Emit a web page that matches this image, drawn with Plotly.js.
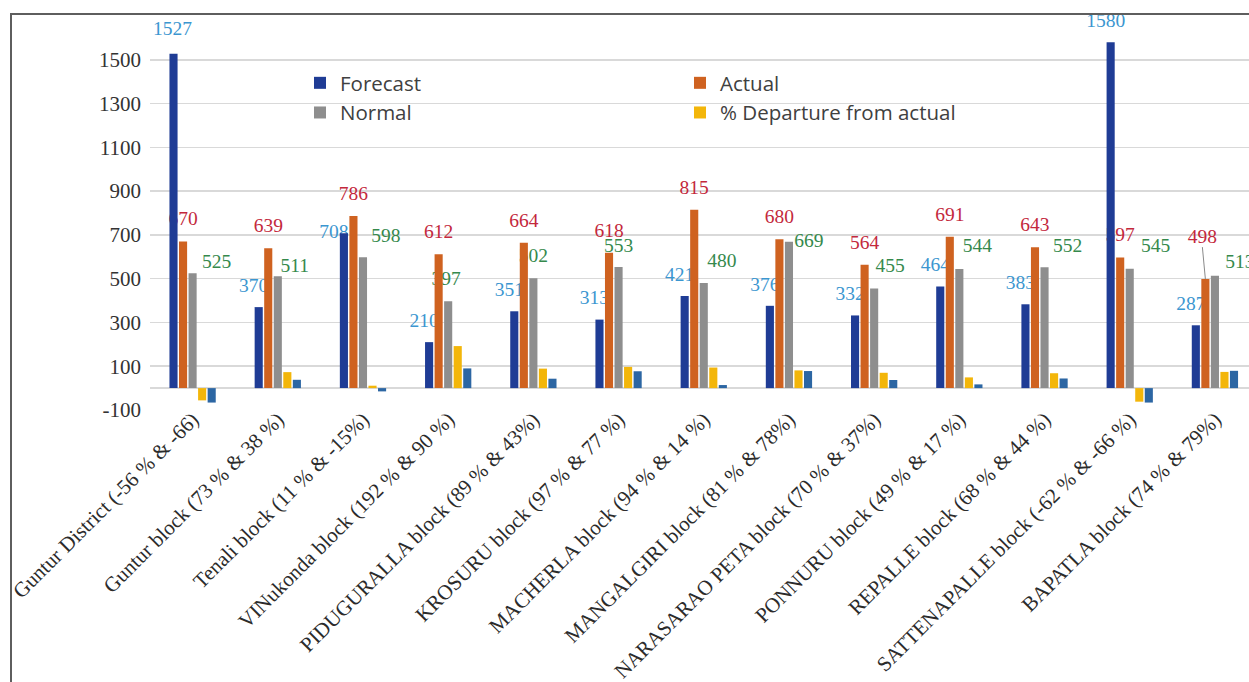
<!DOCTYPE html>
<html>
<head>
<meta charset="utf-8">
<script src="https://cdn.plot.ly/plotly-3.0.1.min.js"></script>
<style>
  html, body { margin: 0; padding: 0; background: #fff; overflow: hidden; }
  #wrap { position: relative; width: 1249px; height: 682px; }
  #chart { position: absolute; left: 0; top: 0; width: 1249px; height: 682px; }
  #frame { position: absolute; left: 10px; top: 13px; width: 1300px; height: 720px;
           border-top: 2px solid #5e5e5e; border-left: 2px solid #5e5e5e; pointer-events: none; }
</style>
</head>
<body>
<div id="wrap"><div id="chart"></div><div id="frame"></div></div>
<script>
// ---- data ----
const categories = [
  "Guntur District (-56 % & -66)",
  "Guntur block (73 % & 38 %)",
  "Tenali block (11 % & -15%)",
  "VINukonda block (192 % & 90 %)",
  "PIDUGURALLA block (89 % & 43%)",
  "KROSURU block (97 % & 77 %)",
  "MACHERLA block (94 % & 14 %)",
  "MANGALGIRI block (81 % & 78%)",
  "NARASARAO PETA block (70 % & 37%)",
  "PONNURU block (49 % & 17 %)",
  "REPALLE block (68 % & 44 %)",
  "SATTENAPALLE block (-62 % & -66 %)",
  "BAPATLA block (74 % & 79%)"
];
const forecast  = [1527, 370, 708, 210, 351, 313, 421, 376, 332, 464, 383, 1580, 287];
const actual    = [670, 639, 786, 612, 664, 618, 815, 680, 564, 691, 643, 597, 498];
const normal    = [525, 511, 598, 397, 502, 553, 480, 669, 455, 544, 552, 545, 513];
const departureActual = [-56, 73, 11, 192, 89, 97, 94, 81, 70, 49, 68, -62, 74];
const departureNormal = [-66, 38, -15, 90, 43, 77, 14, 78, 37, 17, 44, -66, 79];
const yTickValues = [-100, 100, 300, 500, 700, 900, 1100, 1300, 1500];

// ---- geometry ----
const W = 1249, H = 682;
const M = { l: 150, r: 0, t: 16, b: 272 };
const plotW = W - M.l - M.r, plotH = H - M.t - M.b;
const xRange = [-0.5, 12.4];
const yRange = [-100, 1700];
const bargap = 0.44, bargroupgap = 0.15, nSeries = 5;
const pxPerX = plotW / (xRange[1] - xRange[0]);
const pxPerY = plotH / (yRange[1] - yRange[0]);
const idx = categories.map((_, i) => i);

// centre of bar k inside category i (grouped bars)
function barCenter(i, k) {
  const slot = (1 - bargap) / nSeries;
  return i - (1 - bargap) / 2 + (k + 0.5) * slot;
}

// label placement in pixels [right, up] relative to the bar top
const forecastShift = idx.map(i => i === 2 ? [-10, 0] : (i === 0 ? [-1, 24] : [-5, 20]));
const actualShift   = idx.map(i => i === 12 ? [-3, 41] : [0, 21]);
const normalShift   = [[24, 10], [17, 9], [23, 20], [-2, 21], [0, 21], [0, 20], [18, 21],
                       [20, 0], [16, 21], [18, 22], [23, 20], [26, 22], [25, 13]];

const serif = "Liberation Serif, Times New Roman, serif";
const sans = "Open Sans, Noto Sans, sans-serif";

function labelTrace(values, k, shift, color) {
  return {
    type: "scatter", mode: "text", xaxis: "x", yaxis: "y",
    x: values.map((v, i) => barCenter(i, k) + shift[i][0] / pxPerX),
    y: values.map((v, i) => v + shift[i][1] / pxPerY),
    text: values.map(v => String(v)),
    textposition: "middle center",
    textfont: { family: serif, size: 19.5, color: color },
    cliponaxis: false, hoverinfo: "skip", showlegend: false
  };
}

function barTrace(name, values, color, legend, show) {
  return {
    type: "bar", name: name, x: idx, y: values, xaxis: "x", yaxis: "y2",
    marker: { color: color, line: { width: 0 } },
    legend: legend, legendgroup: name, showlegend: show,
    hovertemplate: name + ": %{y}<extra></extra>"
  };
}

// leader line from the BAPATLA "Actual" label down to its bar
const leadX = barCenter(12, 1);
const leader = {
  type: "scatter", mode: "lines", xaxis: "x", yaxis: "y",
  x: [leadX - 3 / pxPerX, leadX],
  y: [actual[12] + 32 / pxPerY, actual[12]],
  line: { color: "#8a8a8a", width: 1 },
  hoverinfo: "skip", showlegend: false, cliponaxis: false
};

const traces = [
  labelTrace(forecast, 0, forecastShift, "#3b96d0"),
  labelTrace(actual, 1, actualShift, "#c3283c"),
  labelTrace(normal, 2, normalShift, "#35894c"),
  leader,
  barTrace("Forecast", forecast, "#1f3c95", "legend", true),
  barTrace("Actual", actual, "#cf6220", "legend2", true),
  barTrace("Normal", normal, "#8e8e8e", "legend", true),
  barTrace("% Departure from actual", departureActual, "#f3b60a", "legend2", true),
  barTrace("% Departure from normal", departureNormal, "#2c66a3", "legend", false)
];

// legend boxes placed in plot-fraction coordinates from pixel anchors
const legX = px => (px - M.l) / plotW;
const legY = py => 1 - (py - M.t) / plotH;
const legendCommon = {
  xref: "paper", yref: "paper", yanchor: "top", xanchor: "left",
  bgcolor: "rgba(0,0,0,0)", borderwidth: 0, tracegroupgap: 2,
  font: { family: sans, size: 20.5, color: "#404040" }, traceorder: "normal"
};

const layout = {
  width: W, height: H,
  margin: M,
  paper_bgcolor: "#ffffff", plot_bgcolor: "#ffffff",
  barmode: "group", bargap: bargap, bargroupgap: bargroupgap,
  showlegend: true,
  legend: Object.assign({}, legendCommon, { x: legX(300), y: legY(63) }),
  legend2: Object.assign({}, legendCommon, { x: legX(680), y: legY(63) }),
  xaxis: {
    range: xRange, tickvals: idx, ticktext: categories, tickangle: -45,
    tickfont: { family: serif, size: 21, color: "#2b2b2b" },
    showgrid: false, zeroline: false, showline: false, ticks: "",
    ticklabelstandoff: -8
  },
  yaxis: {
    range: yRange, tickvals: yTickValues, ticktext: yTickValues.map(String),
    tickfont: { family: serif, size: 21, color: "#333333" },
    showgrid: true, gridcolor: "#d9d9d9", gridwidth: 1.5,
    zeroline: true, zerolinecolor: "#d9d9d9", zerolinewidth: 1.5,
    showline: false, ticks: "", ticklabelstandoff: 8
  },
  yaxis2: { range: yRange, overlaying: "y", visible: false }
};

Plotly.newPlot("chart", traces, layout, { displayModeBar: false, staticPlot: true });
</script>
</body>
</html>
